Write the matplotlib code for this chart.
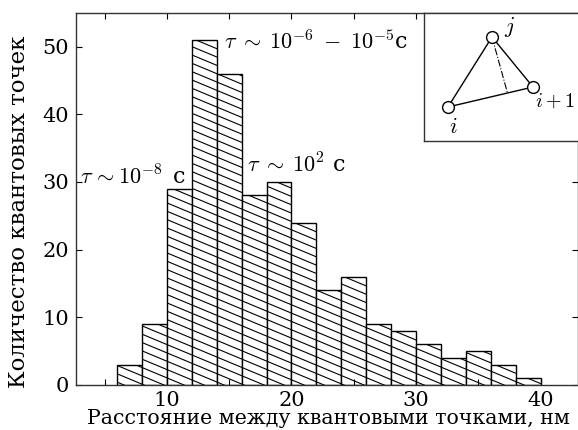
import numpy as np
import matplotlib
matplotlib.use("Agg")
import matplotlib.pyplot as plt
import matplotlib.hatch as mhatch
from matplotlib.path import Path
from matplotlib.ticker import MultipleLocator

# ---------------- data ----------------
bin_edges = [6, 8, 10, 12, 14, 16, 18, 20, 22, 24, 26, 28, 30, 32, 34, 36, 38, 40]
counts = [3, 9, 29, 51, 46, 28, 30, 24, 14, 16, 9, 8, 6, 4, 5, 3, 1]
x_major = [10, 20, 30, 40]
y_major = [0, 10, 20, 30, 40, 50]
xlabel = "Расстояние между квантовыми точками, нм"
ylabel = "Количество квантовых точек"
annotations = [
    (r"$\tau\,\sim 10^{-8}\,$ с", 3.05, 30.6),
    (r"$\tau\;\sim\;10^{-6}\;-\;10^{-5}$с", 14.55, 50.7),
    (r"$\tau\;\sim\;10^{2}$ с", 16.4, 32.5),
]
# inset diagram nodes (inset pixel coordinates)
node_names = ["i", "j", "i+1"]
node_x = [448, 492, 533]
node_y = [107, 37, 87]


# ------------- shallow "\" hatch -------------
class ShallowBackslash(mhatch.HatchPatternBase):
    def __init__(self, hatch, density):
        self.n = 12
        self.k = 5
        if "\\" in hatch:
            self.num_lines = self.n + self.k + 1
        else:
            self.num_lines = 0
        self.num_vertices = 2 * self.num_lines

    def set_vertices_and_codes(self, vertices, codes):
        j = np.arange(self.num_lines)
        vertices[0::2, 0] = 0.0
        vertices[0::2, 1] = j / self.n
        vertices[1::2, 0] = 1.0
        vertices[1::2, 1] = (j - self.k) / self.n
        codes[0::2] = Path.MOVETO
        codes[1::2] = Path.LINETO


mhatch._hatch_types = [ShallowBackslash if t.__name__ == "SouthEastHatch" else t
                       for t in mhatch._hatch_types]

plt.rcParams["font.family"] = ["DejaVu Serif"]
plt.rcParams["mathtext.fontset"] = "cm"
plt.rcParams["hatch.linewidth"] = 0.8
plt.rcParams["hatch.color"] = "black"

W, H = 578, 430
fig = plt.figure(figsize=(W / 100, H / 100), dpi=100)
ax = fig.add_axes([76 / W, 1 - 385 / H, (578 - 76) / W, (385 - 12.7) / H])

lefts = bin_edges[:-1]
widths = np.diff(bin_edges)
ax.bar(lefts, counts, width=widths, align="edge", facecolor="white",
       edgecolor="black", linewidth=1.0, hatch="\\")

ax.set_xlim(2.7, 43.0)
ax.set_ylim(0, 55)
ax.set_xticks(x_major)
ax.xaxis.set_minor_locator(MultipleLocator(5))
ax.set_yticks(y_major)
ax.tick_params(which="both", direction="in", top=True, right=True,
               length=4, width=0.8, labelsize=15)
ax.tick_params(axis="x", pad=4)
ax.tick_params(axis="y", pad=5)
for s in ax.spines.values():
    s.set_linewidth(1.0)
    s.set_color("#333333")

fig.text(328 / W, 1 - 419 / H, xlabel, ha="center", va="center", fontsize=14.8)
fig.text(19 / W, 1 - 212 / H, ylabel, ha="center", va="center",
         rotation=90, fontsize=16.5)

for txt, xx, yy in annotations:
    ax.text(xx, yy, txt, ha="left", va="center", fontsize=16)

# ------------- inset -------------
ix0, iy0, iy1 = 424, 13, 141
iw = W - ix0 + 5
axi = fig.add_axes([ix0 / W, 1 - iy1 / H, iw / W, (iy1 - iy0) / H])
axi.set_xlim(ix0, ix0 + iw)
axi.set_ylim(iy1, iy0)
axi.set_xticks([])
axi.set_yticks([])
for s in axi.spines.values():
    s.set_linewidth(1.0)
    s.set_color("#333333")
axi.spines["right"].set_visible(False)

ni, nj, nk = 0, 1, 2
axi.plot([node_x[ni], node_x[nj], node_x[nk], node_x[ni]],
         [node_y[ni], node_y[nj], node_y[nk], node_y[ni]],
         color="black", lw=1.0, zorder=1)
t = 0.7
fx = node_x[ni] + t * (node_x[nk] - node_x[ni])
fy = node_y[ni] + t * (node_y[nk] - node_y[ni])
axi.plot([node_x[nj], fx], [node_y[nj], fy], color="black", lw=0.8,
         ls="-.", zorder=1)
axi.plot(node_x, node_y, "o", ms=8.5, mfc="white", mec="black", mew=1.0,
         zorder=2)
axi.text(510, 27, r"$j$", ha="center", va="center", fontsize=16)
axi.text(453, 127, r"$i$", ha="center", va="center", fontsize=16)
axi.text(555, 101, r"$i+1$", ha="center", va="center", fontsize=14.5)

fig.savefig("out.png", dpi=100)
